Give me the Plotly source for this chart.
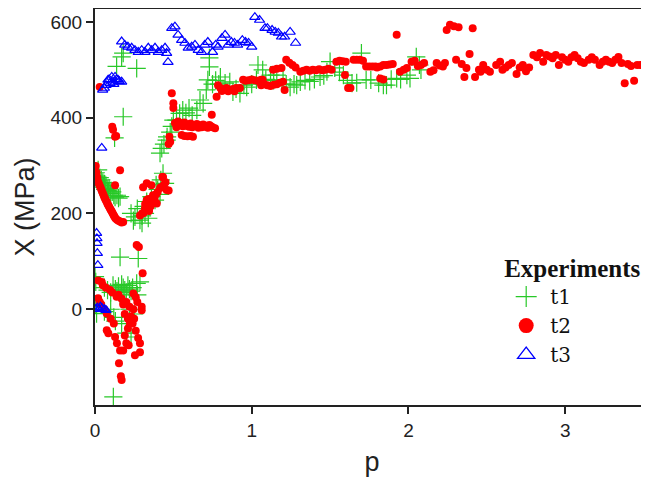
import plotly.graph_objects as go

# ---- data ----
t1_p = [0.005,0.01,0.015,0.02,0.025,0.03,0.035,0.04,0.045,0.05,0.055,0.06,0.065,0.07,0.08,0.085,0.09,0.1,0.11,0.12,0.128,0.14,0.15,0.16,
        0.138,0.17,0.18,0.266,0.18,0.125,0.16,0.276,0.117,
        0.0,0.005,0.01,0.005,0.06,0.08,0.1,0.115,0.13,0.14,0.15,0.16,0.17,0.18,0.19,0.2,0.21,0.22,0.23,0.24,0.266,0.287,0.27,0.1,0.12,0.13,0.2,0.23,0.25,0.17,0.06,0.22,
        0.23,0.245,0.255,0.27,0.287,0.3,0.31,0.319,0.33,0.35,0.36,0.383,0.4,0.415,0.434,0.447,0.3,0.34,0.39,0.42,
        0.415,0.426,0.44,0.457,0.46,0.48,0.49,0.50,0.52,0.54,0.56,0.58,0.60,0.62,0.65,0.67,0.69,0.71,0.72,0.73,0.73,0.75,0.77,0.79,0.80,0.83,0.86,0.88,0.90,0.925,0.95,0.968,1.0,1.03,1.04,1.07,1.09,1.12,1.14,1.16,1.2,1.22,1.245,1.27,1.287,1.31,1.34,1.37,1.4,1.436,1.46,1.48,1.50,1.53,1.56,1.585,1.61,1.64,1.67,1.70,1.73,1.76,1.81,1.84,1.86,1.89,1.925,1.95,1.99,2.01,2.05,2.07,2.08]
t1_x = [285,278,272,291,268,275,262,270,258,265,255,262,250,258,248,245,252,242,245,238,234,238,232,235,
        507,527,535,503,402,358,109,106,-183,
        68,57,-9,10,45,40,35,50,42,38,48,30,52,45,40,35,50,42,38,45,54,57,30,0,-17,-25,-50,-58,-10,-30,-5,0,
        200,185,193,210,186,195,215,200,225,215,235,228,250,240,284,263,180,190,260,270,
        326,336,345,353,360,370,382,395,395,409,416,410,420,405,416,437,430,458,479,506,525,470,478,470,485,472,475,454,460,451,468,464,470,479,510,500,480,489,478,489,479,470,464,470,468,475,478,476,480,485,488,496,517,504,495,489,478,472,473,535,479,479,472,468,468,480,482,480,489,482,527,510,500]

t2_p = [0.005,0.01,0.015,0.02,0.025,0.03,0.035,0.04,0.045,0.05,0.055,0.06,0.065,0.07,0.075,0.08,0.085,0.09,0.095,0.1,0.105,0.11,0.115,0.12,0.125,0.13,0.14,0.15,0.16,0.17,0.18,
        0.03,0.11,0.115,0.128,0.135,0.128,0.16,
        0.02,0.043,0.05,0.07,0.096,0.11,0.138,0.15,0.17,0.2,0.22,0.02,0.03,0.04,0.06,0.075,0.075,0.085,0.128,0.14,0.16,0.153,0.17,0.165,0.19,0.2,0.21,0.223,0.23,0.245,0.25,0.26,0.275,0.287,0.255,0.287,0.215,0.18,0.298,0.298,0.304,0.266,0.28,0.245,0.26,0.27,0.18,0.19,0.21,0.24,0.1,0.12,
        0.287,0.3,0.307,0.33,0.34,0.35,0.36,0.37,0.38,0.394,0.4,0.415,0.43,0.434,0.44,0.457,0.45,0.319,0.33,0.31,0.32,0.345,0.355,0.365,0.39,0.42,0.47,
        0.48,0.47,0.49,0.50,0.50,0.475,
        0.51,0.53,0.55,0.57,0.59,0.61,0.63,0.65,0.67,0.69,0.71,0.73,0.75,0.766,0.52,0.54,0.56,0.58,0.60,0.62,0.64,0.66,0.68,0.70,0.72,0.74,0.553,0.57,0.59,0.61,0.625,0.745,
        0.776,0.785,0.80,0.82,0.84,0.86,0.88,0.90,0.925,0.81,0.85,0.89,0.945,0.96,0.98,1.0,1.02,1.04,1.06,1.07,1.06,1.08,1.10,1.12,1.14,1.16,1.18,1.20,1.21,1.136,1.16,1.19,1.22,1.24,1.26,1.28,1.31,1.33,1.35,1.37,1.39,1.41,1.43,1.45,1.47,1.49,1.51,1.54,1.56,1.58,1.60,1.595,1.615,
        1.63,1.65,1.67,1.69,1.71,1.73,1.75,1.77,1.79,1.80,1.82,1.84,1.86,1.88,1.90,1.82,1.84,1.925,1.946,1.97,1.99,2.02,2.04,2.06,2.08,2.10,2.14,2.16,2.18,2.20,2.22,2.244,2.265,2.29,2.32,2.41,2.233,2.304,2.34,2.37,2.357,2.39,2.425,2.45,2.46,2.477,2.50,2.52,2.56,2.585,2.60,2.62,2.64,2.66,2.69,2.71,2.73,2.75,2.77,2.797,2.82,2.84,2.86,2.88,2.90,2.92,2.94,2.96,2.98,3.0,3.02,3.04,3.06,3.08,3.10,3.12,3.15,3.17,3.19,3.22,3.24,3.26,3.28,3.30,3.32,3.34,3.36,3.38,3.40,3.42,3.44,3.46,3.48,3.50,3.527]
t2_x = [299,285,275,266,262,258,254,250,246,242,238,234,230,227,224,220,217,214,211,208,205,202,199,196,193,190,187,185,183,181,182,
        464,381,375,360,362,259,290,
        60,57,50,45,40,35,26,30,22,15,5,23,15,10,0,-9,-44,-50,-58,-71,-86,-113,-148,-140,-55,-71,-40,-30,-15,0,-20,-45,-60,-71,-96,-90,-75,-86,-2,5,75,134,130,33,25,15,10,-10,-20,-30,-20,-30,
        196,200,255,263,230,222,259,238,230,221,245,253,276,276,260,249,265,211,228,201,220,205,215,225,240,255,248,
        350,345,451,430,420,360,
        389,392,388,390,386,388,385,387,384,386,383,385,380,378,380,384,382,383,381,380,382,379,380,381,379,382,364,362,361,362,360,406,
        444,468,462,460,462,458,460,462,462,456,455,455,479,477,478,480,478,477,479,479,468,470,468,466,469,470,473,475,458,500,502,504,521,515,510,505,496,498,500,498,500,499,501,499,500,502,500,517,519,518,517,489,462,
        462,521,521,521,519,507,507,507,507,505,507,510,510,511,512,482,480,573,496,500,504,517,519,508,510,514,496,499,514,509,507,583,594,591,589,587,514,521,512,504,485,533,485,500,496,510,500,496,510,517,500,505,510,514,491,505,510,497,505,531,526,535,517,531,528,524,531,510,526,521,517,526,531,524,517,514,521,526,521,510,517,521,517,514,521,527,514,472,512,508,477,510,510,510,521]

t3_p = [0.005,0.015,0.025,0.035,0.045,0.06,0.07,
        0.01,0.012,0.013,0.015,0.018,0.043,
        0.049,0.06,0.07,0.083,0.096,0.107,0.115,0.128,0.137,0.147,0.155,0.17,0.09,0.12,
        0.17,0.19,0.21,0.234,0.255,0.276,0.298,0.319,0.34,0.362,0.383,0.404,0.426,0.447,0.457,0.466,
        0.49,0.51,0.53,0.553,0.574,0.595,0.617,0.638,0.659,0.68,0.70,0.72,0.75,0.77,0.785,0.81,0.83,0.85,0.87,0.89,0.91,0.94,0.96,0.98,1.0,1.02,1.05,1.085,1.10,1.13,1.15,1.17,1.19,1.21,1.245,1.28]
t3_x = [0,3,0,5,2,0,-2,
        159,148,138,117,92,337,
        458,462,468,479,472,485,475,485,480,479,476,475,480,470,
        559,552,548,546,541,537,541,537,546,541,546,537,541,546,535,516,
        587,590,573,562,556,546,548,552,541,537,552,558,537,552,548,566,573,552,558,556,552,562,558,556,548,610,604,587,587,583,579,577,569,569,579,556]

series_names = ["t1", "t2", "t3"]
legend_title = "Experiments"

GREEN = "rgb(40,200,40)"
RED = "rgb(255,0,0)"
BLUE = "rgb(0,0,255)"

fig = go.Figure()
fig.add_trace(go.Scatter(x=t1_p, y=t1_x, mode="markers", showlegend=False,
                         marker=dict(symbol="cross-thin-open", size=13, color=GREEN, line=dict(color=GREEN, width=1.2))))
fig.add_trace(go.Scatter(x=t2_p, y=t2_x, mode="markers", showlegend=False,
                         marker=dict(symbol="circle", size=8, color=RED, line=dict(width=0))))
fig.add_trace(go.Scatter(x=t3_p, y=t3_x, mode="markers", showlegend=False,
                         marker=dict(symbol="triangle-up-open", size=9, color=BLUE, line=dict(color=BLUE, width=1.2))))
# legend entries
fig.add_trace(go.Scatter(x=[None], y=[None], mode="markers", name=series_names[0],
                         marker=dict(symbol="cross-thin-open", size=15, color=GREEN, line=dict(color=GREEN, width=1.2))))
fig.add_trace(go.Scatter(x=[None], y=[None], mode="markers", name=series_names[1],
                         marker=dict(symbol="circle", size=15, color=RED)))
fig.add_trace(go.Scatter(x=[None], y=[None], mode="markers", name=series_names[2],
                         marker=dict(symbol="triangle-up-open", size=15, color=BLUE, line=dict(color=BLUE, width=1.3))))

axis_font = dict(family="Liberation Sans, Arial", size=19, color="#222")
title_font = dict(family="Liberation Sans, Arial", size=27, color="#222")
fig.update_layout(
    width=641, height=472,
    margin=dict(l=87, r=0, t=1, b=75),
    plot_bgcolor="white", paper_bgcolor="white",
    xaxis=dict(range=[0, 3.535], tickvals=[0, 1, 2, 3], ticks="outside", ticklen=7, tickwidth=2,
               tickcolor="#222", showline=True, linecolor="#222", linewidth=2, mirror=True,
               showgrid=False, zeroline=False, tickfont=axis_font, automargin=False,
               title=dict(text="p", font=title_font, standoff=12)),
    yaxis=dict(range=[-200, 627], tickvals=[0, 200, 400, 600], ticks="outside", ticklen=7, tickwidth=2,
               tickcolor="#222", showline=True, linecolor="#222", linewidth=2,
               showgrid=False, zeroline=False, tickfont=axis_font, automargin=False,
               title=dict(text="X (MPa)", font=title_font, standoff=8)),
    legend=dict(x=0.735, y=0.405, xanchor="left", yanchor="top", bgcolor="rgba(0,0,0,0)",
                font=dict(family="DejaVu Serif", size=20, color="#111"),
                title=dict(text="<b>" + legend_title + "</b>",
                           font=dict(family="Liberation Serif, Times New Roman", size=25, color="#111")),
                tracegroupgap=0, itemwidth=38),
)
fig.write_html("out.html")
